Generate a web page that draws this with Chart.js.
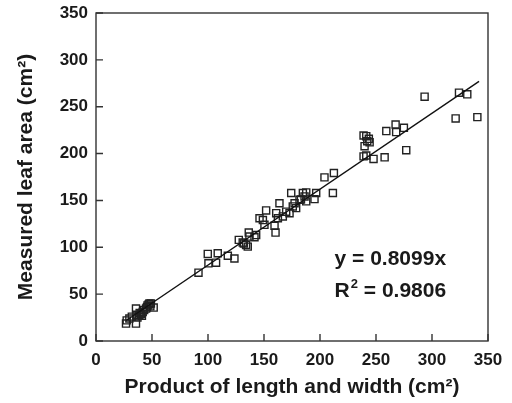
<!DOCTYPE html>
<html><head><meta charset="utf-8">
<script src="https://cdn.jsdelivr.net/npm/chart.js@4"></script>
<style>html,body{margin:0;padding:0;background:#fff}#wrap{width:512px;height:403px}</style>
</head><body><div id="wrap"><canvas id="c" width="512" height="403"></canvas></div>
<script>
const xVals = [26.8,27.4,29.8,35.7,35.7,38.7,40.2,41.7,44.7,46,47.7,48.5,51.5,32,37,43,45.5,39,47,49,36,41,
  91.5,99.8,100.4,108.7,107.2,117.7,123.6,127.5,131,134,135.5,136.4,137,141.5,143,132,
  146,151.9,150.4,149,159.4,160.3,160.9,162.4,163.8,166.8,169.8,172.8,174.3,175.7,177.3,178.7,181.7,184.7,186.2,187.7,187.7,195.1,196.6,183,
  204,212.4,211.5,238.9,241.3,239.8,242.2,244.3,243.6,238.9,241.3,247.8,257.7,259.2,267.5,268,274.9,277,
  293.4,321.1,324.1,331.5,340.5];
const yVals = [18.6,22,24,18.6,34.6,27.5,29,31,34.6,38,40,37,35.7,26,25,33,36,30,39,40,28,27,
  72.9,92.9,82.9,93.6,83.6,91,88,107.9,105,102.5,100.7,115.7,111.4,110.7,113,104,
  131,139.3,124,129,122.9,115.7,136.4,131,147,132.9,138,136.4,157.9,143.6,147,141.8,150.7,157.9,154.3,158.6,149,151.4,157.9,151,
  174.6,179.3,157.9,219.3,218.6,207.9,213.2,212,215.7,197,197.9,194.3,196,224,231,222.9,227.5,203.6,
  260.7,237.5,265,263.2,238.9];
const fitX = [27, 342];
const fitY = [21.9, 277.0];
const xTicks = [0,50,100,150,200,250,300,350];
const yTicks = [0,50,100,150,200,250,300,350];
const eqText = 'y = 0.8099x';
const r2Parts = ['R', '2', ' = 0.9806'];

const pts = xVals.map((x,i)=>({x, y:yVals[i]}));
const fitPts = fitX.map((x,i)=>({x, y:fitY[i]}));
const ink = '#1a1a1a';
const FAM = '"Liberation Sans", Arial, sans-serif';

const frame = {
  id:'frame',
  afterDraw(chart){
    const {ctx, chartArea:a, scales} = chart;
    ctx.save();
    ctx.strokeStyle = '#333'; ctx.lineWidth = 1.4;
    ctx.strokeRect(a.left, a.top, a.right-a.left, a.bottom-a.top);
    ctx.beginPath();
    scales.x.ticks.forEach(t=>{const p=scales.x.getPixelForValue(t.value); ctx.moveTo(p,a.bottom); ctx.lineTo(p,a.bottom-7);});
    scales.y.ticks.forEach(t=>{const p=scales.y.getPixelForValue(t.value); ctx.moveTo(a.left,p); ctx.lineTo(a.left+7,p);});
    ctx.stroke();
    ctx.fillStyle = ink;
    ctx.textBaseline = 'alphabetic';
    const tx = scales.x.getPixelForValue(213);
    ctx.font = 'bold 21px ' + FAM;
    ctx.fillText(eqText, tx, scales.y.getPixelForValue(81));
    const by = scales.y.getPixelForValue(47);
    let x = tx;
    ctx.fillText(r2Parts[0], x, by); x += ctx.measureText(r2Parts[0]).width + 1;
    ctx.font = 'bold 13px ' + FAM;
    ctx.fillText(r2Parts[1], x, by - 9); x += ctx.measureText(r2Parts[1]).width;
    ctx.font = 'bold 21px ' + FAM;
    ctx.fillText(r2Parts[2], x, by);
    ctx.restore();
  }
};

new Chart(document.getElementById('c'), {
  type:'scatter',
  data:{datasets:[
    {data:pts, pointStyle:'rect', pointRadius:5, pointBorderWidth:1.4, borderColor:'#222', backgroundColor:'rgba(255,255,255,0)', order:2},
    {type:'line', data:fitPts, showLine:true, pointRadius:0, borderColor:'#111', borderWidth:1.4, fill:false, order:1}
  ]},
  options:{
    responsive:false, animation:false, devicePixelRatio:1,
    layout:{padding:{top:13,right:24,left:0,bottom:3}},
    plugins:{legend:{display:false}, tooltip:{enabled:false}},
    scales:{
      x:{type:'linear', min:0, max:350,
        afterBuildTicks(s){s.ticks = xTicks.map(v=>({value:v}));},
        afterFit(s){s.height = 59; s.paddingLeft = 0; s.paddingRight = 0;},
        grid:{display:false, drawTicks:false}, border:{display:false},
        ticks:{color:ink, padding:9, maxRotation:0, font:{family:FAM, size:17, weight:'bold'}},
        title:{display:true, text:'Product of length and width (cm²)', color:ink, padding:{top:6,bottom:0}, font:{family:FAM, size:21, weight:'bold'}}
      },
      y:{type:'linear', min:0, max:350,
        afterBuildTicks(s){s.ticks = yTicks.map(v=>({value:v}));},
        afterFit(s){s.width = 96; s.paddingTop = 0; s.paddingBottom = 0;},
        grid:{display:false, drawTicks:false}, border:{display:false},
        ticks:{color:ink, padding:8, font:{family:FAM, size:17, weight:'bold'}},
        title:{display:true, text:'Measured leaf area (cm²)', color:ink, padding:{top:14,bottom:10}, font:{family:FAM, size:21, weight:'bold'}}
      }
    }
  },
  plugins:[frame]
});
</script></body></html>
